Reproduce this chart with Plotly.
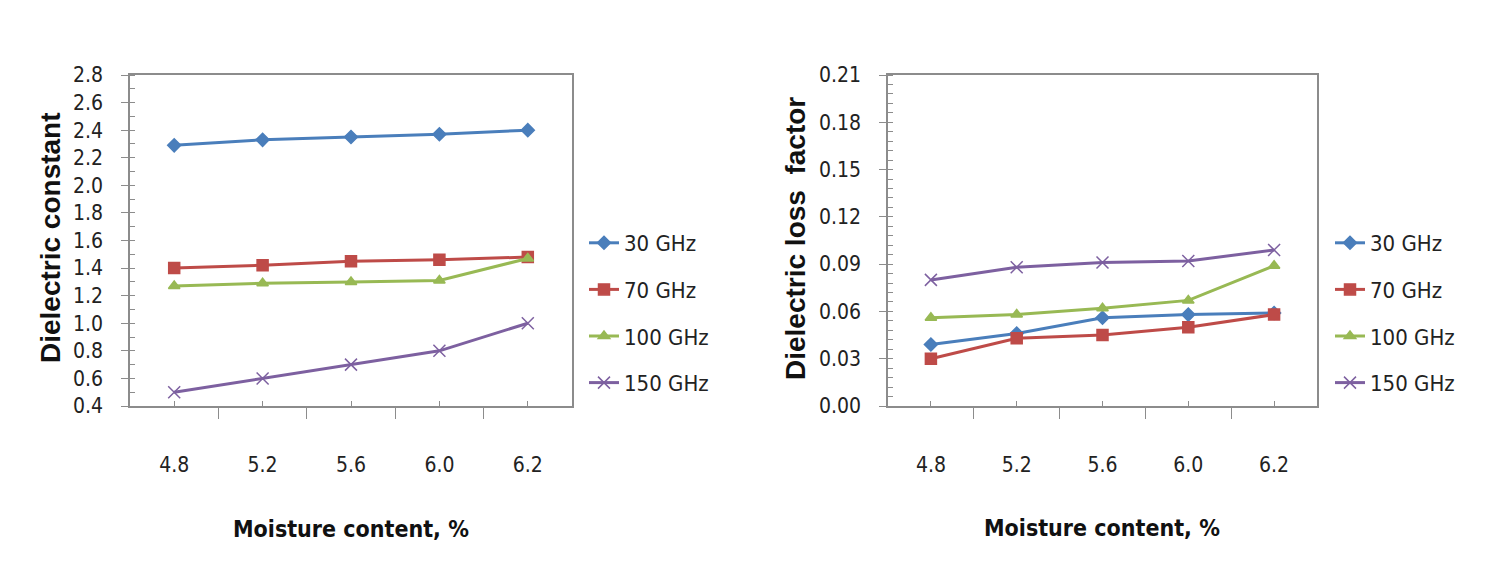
import plotly.graph_objects as go

moisture = ["4.8", "5.2", "5.6", "6.0", "6.2"]
series_names = ["30 GHz", "70 GHz", "100 GHz", "150 GHz"]

const_30 = [2.29, 2.33, 2.35, 2.37, 2.40]
const_70 = [1.40, 1.42, 1.45, 1.46, 1.48]
const_100 = [1.27, 1.29, 1.30, 1.31, 1.47]
const_150 = [0.50, 0.60, 0.70, 0.80, 1.00]

loss_30 = [0.039, 0.046, 0.056, 0.058, 0.059]
loss_70 = [0.030, 0.043, 0.045, 0.050, 0.058]
loss_100 = [0.056, 0.058, 0.062, 0.067, 0.089]
loss_150 = [0.080, 0.088, 0.091, 0.092, 0.099]

colors = ["#4A7EBB", "#BE4B48", "#98B954", "#7D60A0"]
symbols = ["diamond", "square", "triangle-up", "x-thin-open"]
msizes = [10, 11, 10, 12]

NARROW = "DejaVu Sans Condensed, Liberation Sans Narrow, Arial Narrow, sans-serif"
BOLD = "Liberation Sans, Arial, sans-serif"

idx = list(range(len(moisture)))

fig = go.Figure()
left_data = [const_30, const_70, const_100, const_150]
right_data = [loss_30, loss_70, loss_100, loss_150]

for i, (name, vals) in enumerate(zip(series_names, left_data)):
    fig.add_trace(go.Scatter(
        x=idx, y=vals, name=name, mode="lines+markers",
        line=dict(color=colors[i], width=3),
        marker=dict(symbol=symbols[i], size=msizes[i], color=colors[i],
                    line=dict(color=colors[i], width=1.5)),
        xaxis="x", yaxis="y", legend="legend", legendgroup="L%d" % i))

for i, (name, vals) in enumerate(zip(series_names, right_data)):
    fig.add_trace(go.Scatter(
        x=idx, y=vals, name=name, mode="lines+markers",
        line=dict(color=colors[i], width=3),
        marker=dict(symbol=symbols[i], size=msizes[i], color=colors[i],
                    line=dict(color=colors[i], width=1.5)),
        xaxis="x2", yaxis="y2", legend="legend2", legendgroup="R%d" % i))

axis_color = "#8C8C8C"
boundaries = [i - 0.5 for i in range(len(moisture) + 1)]

W, H = 1492, 575
OFF = 8  # default page body margin


def fx(px):
    return (px - OFF) / W


def fy(py):
    return 1 - (py - OFF) / H


def xaxis_cfg(domain, anchor):
    return dict(
        domain=domain, anchor=anchor, range=[-0.5, len(moisture) - 0.5],
        automargin=False,
        tickmode="array", tickvals=idx, ticktext=moisture,
        ticks="inside", ticklen=5, tickcolor=axis_color, tickwidth=1,
        minor=dict(tickmode="array", tickvals=boundaries, ticks="outside",
                   ticklen=11, tickcolor=axis_color, tickwidth=1),
        showline=True, linecolor=axis_color, linewidth=1.5, mirror=True,
        showgrid=False, zeroline=False,
        tickfont=dict(family=NARROW, size=21, color="#222222"),
        ticklabelstandoff=39)


def yaxis_cfg(domain, anchor, rng, dtick, minor_dtick, fmt):
    return dict(
        domain=domain, anchor=anchor, range=rng, dtick=dtick, tick0=rng[0],
        automargin=False,
        tickformat=fmt, ticks="outside", ticklen=7, tickcolor=axis_color,
        minor=dict(dtick=minor_dtick, tick0=rng[0], ticks="inside", ticklen=5,
                   tickcolor=axis_color),
        showline=True, linecolor=axis_color, linewidth=1.5, mirror=True,
        showgrid=False, zeroline=False,
        tickfont=dict(family=NARROW, size=21, color="#222222"),
        ticklabelstandoff=14)


ydom = [fy(406), fy(75)]
legend_font = dict(family=NARROW, size=22, color="#222222")

fig.update_layout(
    width=W, height=H,
    margin=dict(l=0, r=0, t=0, b=0),
    paper_bgcolor="white", plot_bgcolor="white",
    xaxis=xaxis_cfg([fx(130), fx(572)], "y"),
    yaxis=yaxis_cfg(ydom, "x", [0.4, 2.8], 0.2, 0.1, ".1f"),
    xaxis2=xaxis_cfg([fx(888), fx(1317)], "y2"),
    yaxis2=yaxis_cfg(ydom, "x2", [0.0, 0.21], 0.03, 0.006, ".2f"),
    legend=dict(x=fx(584), y=fy(222), xanchor="left", yanchor="top",
                font=legend_font, tracegroupgap=15, itemwidth=30,
                bgcolor="rgba(0,0,0,0)"),
    legend2=dict(x=fx(1330), y=fy(222), xanchor="left", yanchor="top",
                 font=legend_font, tracegroupgap=15, itemwidth=30,
                 bgcolor="rgba(0,0,0,0)"),
    annotations=[
        dict(text="<b>Dielectric constant</b>", xref="paper", yref="paper",
             x=fx(50), y=fy(238), xanchor="center", yanchor="middle",
             textangle=-90, showarrow=False,
             font=dict(family=BOLD, size=28, color="#111111")),
        dict(text="<b>Dielectric loss  factor</b>", xref="paper", yref="paper",
             x=fx(795), y=fy(239), xanchor="center", yanchor="middle",
             textangle=-90, showarrow=False,
             font=dict(family=BOLD, size=28, color="#111111")),
        dict(text="<b>Moisture content, %</b>", xref="paper", yref="paper",
             x=fx(351), y=fy(529), xanchor="center", yanchor="middle",
             showarrow=False,
             font=dict(family=NARROW, size=23, color="#111111")),
        dict(text="<b>Moisture content, %</b>", xref="paper", yref="paper",
             x=fx(1102), y=fy(528), xanchor="center", yanchor="middle",
             showarrow=False,
             font=dict(family=NARROW, size=23, color="#111111")),
    ],
)

fig.write_html("out.html")
